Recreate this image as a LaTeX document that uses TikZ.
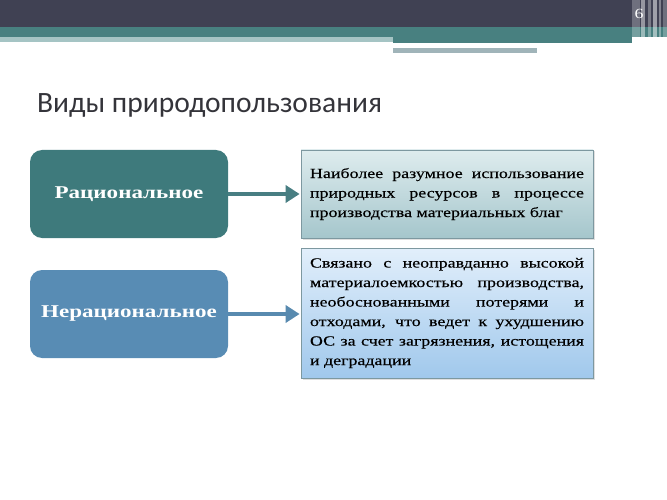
\documentclass[tikz,border=0pt]{standalone}
\usepackage{fontspec}
\setmainfont{Liberation Serif}[FakeStretch=1.28]
\newfontfamily\descfont{Liberation Serif}[FakeStretch=1.28, FakeBold=0.3]
\newfontfamily\titlefont{Carlito}
\usetikzlibrary{positioning,arrows.meta,shadows}

\definecolor{barDark}{RGB}{64,65,83}
\definecolor{barTeal}{RGB}{72,128,128}
\definecolor{barLight}{RGB}{165,196,196}
\definecolor{barGray}{RGB}{160,180,185}
\definecolor{titleGray}{RGB}{52,52,58}
\definecolor{ratFill}{RGB}{62,122,124}
\definecolor{irrFill}{RGB}{88,140,180}
\definecolor{ratArrow}{RGB}{72,126,130}
\definecolor{irrArrow}{RGB}{88,138,175}
\definecolor{ratTop}{RGB}{222,236,238}
\definecolor{ratBot}{RGB}{165,198,204}
\definecolor{irrTop}{RGB}{226,239,251}
\definecolor{irrBot}{RGB}{160,200,236}
\definecolor{descLine}{RGB}{125,152,160}

\tikzset{
  kind/.style={rounded corners=12pt, minimum width=198pt, minimum height=88pt,
    text=white, font=\bfseries\fontsize{18}{20}\selectfont, inner sep=0pt},
  desc/.style={draw=descLine, line width=0.8pt, minimum width=292pt, inner sep=0pt,
    text width=274pt, align=justify, font=\descfont\fontsize{14}{19.5}\selectfont,
    drop shadow={shadow xshift=1.5pt, shadow yshift=-1.5pt, opacity=0.25}},
  link/.style={line width=4.5pt, -{Triangle[length=14pt, width=17pt]}, shorten >=1pt}
}

\begin{document}
\begin{tikzpicture}[x=1pt,y=-1pt]
\useasboundingbox (0,0) rectangle (667,500);
% header bars
\fill[barDark] (0,0) rectangle (667,27);
\fill[barTeal] (0,27) rectangle (667,37);
\fill[barLight] (0,37) rectangle (393,42);
\fill[barTeal] (393,37) rectangle (632,43);
\fill[white] (393,43) rectangle (617,47);
\fill[barGray] (393,48) rectangle (537,53);
\foreach \x/\w/\o in {632/8/0.25, 641/4/0.45, 648/3/0.3, 653/4/0.5, 659/2/0.35, 663/4/0.25}{
  \fill[white, opacity=\o] (\x,0) rectangle (\x+\w,53);
}
\node[text=white, font=\fontsize{14}{14}\selectfont, inner sep=0pt] (page) at (639,14) {6};

% title
\node[anchor=base west, inner sep=0pt, text=titleGray,
  font=\titlefont\fontsize{29.5}{31}\selectfont] (title) at (37,113) {Виды природопользования};

% kinds
\node[kind, fill=ratFill] (rat) at (129,194) {Рациональное};
\node[kind, fill=irrFill] (irr) at (129,314) {Нерациональное};

% descriptions
\node[desc, minimum height=88pt, top color=ratTop, bottom color=ratBot] (ratdesc) at (447,194)
  {Наиболее разумное использование\linebreak
   природных ресурсов в процессе\linebreak
   производства материальных благ};
\node[desc, minimum height=130pt, top color=irrTop, bottom color=irrBot] (irrdesc) at (447,313)
  {Связано с неоправданно высокой\linebreak
   материалоемкостью производства,\linebreak
   необоснованными потерями и\linebreak
   отходами, что ведет к ухудшению\linebreak
   ОС за счет загрязнения, истощения\linebreak
   и деградации};

\draw[link, ratArrow] (rat) -- (ratdesc);
\draw[link, irrArrow] (irr) -- (irr -| irrdesc.west);
\end{tikzpicture}
\end{document}
